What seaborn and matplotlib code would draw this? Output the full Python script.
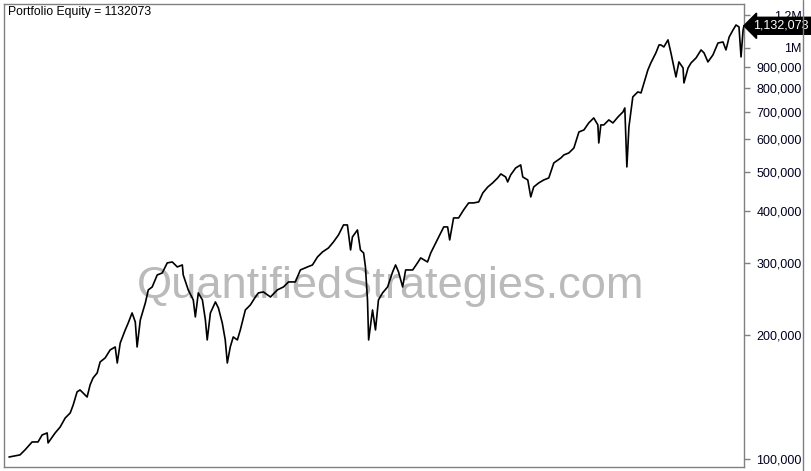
import numpy as np
import pandas as pd
import seaborn as sns
import matplotlib
matplotlib.use("Agg")
from matplotlib import pyplot as plt
from matplotlib import transforms
from matplotlib.lines import Line2D

# equity curve (decimal year, portfolio equity in thousands)
years = [1993.07, 1993.55, 1993.77, 1994.08, 1994.34, 1994.52, 1994.74, 1994.78, 1995.09, 1995.31,
         1995.53, 1995.75, 1995.88, 1996.05, 1996.18, 1996.49, 1996.62, 1996.75, 1996.93, 1997.06,
         1997.28, 1997.50, 1997.72, 1997.81, 1997.94, 1998.16, 1998.29, 1998.46, 1998.60, 1998.68,
         1998.82, 1999.04, 1999.17, 1999.34, 1999.56, 1999.78, 2000.00, 2000.22, 2000.44, 2000.66,
         2000.70, 2000.92, 2001.14, 2001.23, 2001.36, 2001.54, 2001.67, 2001.75, 2001.89, 2002.11,
         2002.24, 2002.41, 2002.54, 2002.63, 2002.76, 2002.89, 2003.07, 2003.20, 2003.42, 2003.64,
         2003.86, 2003.99, 2004.21, 2004.52, 2004.82, 2005.09, 2005.31, 2005.61, 2005.83, 2006.14,
         2006.36, 2006.58, 2006.80, 2007.06, 2007.28, 2007.50, 2007.72, 2007.89, 2008.03, 2008.11,
         2008.33, 2008.46, 2008.60, 2008.68, 2008.77, 2008.82, 2008.99, 2009.12, 2009.25, 2009.43,
         2009.65, 2009.87, 2010.00, 2010.13, 2010.31, 2010.44, 2010.75, 2010.96, 2011.10, 2011.40,
         2011.54, 2011.67, 2011.89, 2012.11, 2012.28, 2012.37, 2012.54, 2012.76, 2012.98, 2013.20,
         2013.42, 2013.64, 2013.82, 2014.04, 2014.25, 2014.47, 2014.61, 2014.82, 2014.91, 2015.04,
         2015.26, 2015.48, 2015.57, 2015.79, 2015.92, 2016.05, 2016.27, 2016.49, 2016.71, 2016.93,
         2017.24, 2017.37, 2017.59, 2017.81, 2018.03, 2018.25, 2018.46, 2018.68, 2018.86, 2018.90,
         2018.99, 2019.12, 2019.34, 2019.52, 2019.74, 2019.96, 2020.04, 2020.13, 2020.22, 2020.39,
         2020.61, 2020.75, 2020.88, 2021.05, 2021.18, 2021.40, 2021.54, 2021.62, 2021.75, 2021.93,
         2022.06, 2022.15, 2022.28, 2022.41, 2022.59, 2022.63, 2022.81, 2022.94, 2023.16, 2023.38,
         2023.51, 2023.68, 2023.90, 2024.12, 2024.34, 2024.47, 2024.61, 2024.78, 2024.91, 2025.04,
         2025.13, 2025.22, 2025.26]

equity_k = [101.1, 102.3, 105.2, 110.0, 110.0, 114.4, 115.7, 109.4, 115.7, 119.6,
            125.8, 129.4, 135.3, 145.6, 147.2, 141.5, 151.4, 157.4, 161.9, 172.2,
            176.1, 184.2, 187.3, 171.2, 191.5, 206.0, 214.2, 226.6, 215.4, 187.3,
            217.9, 239.7, 257.8, 262.1, 280.3, 283.5, 299.9, 301.5, 293.2, 296.5,
            280.3, 257.8, 243.7, 221.6, 253.5, 243.7, 217.9, 194.8, 226.6, 241.0,
            233.0, 214.2, 194.8, 171.2, 187.3, 198.1, 194.8, 206.0, 230.4, 237.0,
            247.8, 253.5, 254.9, 247.8, 257.8, 262.1, 269.6, 269.6, 288.3, 293.2,
            296.5, 310.1, 318.9, 326.1, 337.3, 350.8, 371.0, 371.0, 322.5, 346.9,
            360.7, 322.5, 317.1, 293.2, 243.7, 194.8, 230.4, 206.0, 243.7, 253.5,
            262.1, 285.1, 296.5, 285.1, 262.1, 288.3, 288.3, 299.9, 308.4, 301.5,
            317.1, 328.0, 346.9, 366.9, 366.9, 341.1, 385.8, 385.8, 403.5, 419.7,
            419.7, 422.0, 443.8, 459.0, 469.4, 482.7, 493.7, 485.4, 472.0, 490.9,
            510.5, 519.2, 485.4, 477.3, 434.0, 459.0, 469.4, 477.3, 482.7, 525.0,
            539.9, 549.1, 555.3, 571.0, 624.6, 631.7, 656.9, 675.6, 649.6, 587.3,
            649.6, 649.6, 668.1, 656.9, 679.4, 698.7, 714.5, 513.4, 642.4, 760.0,
            781.6, 777.2, 822.0, 884.0, 919.4, 972.4, 1017.0, 1017.0, 1005.6, 1046.0,
            972.4, 919.4, 850.0, 924.6, 894.0, 822.0, 894.0, 919.4, 945.5, 988.9,
            972.4, 924.6, 961.6, 1028.0, 1034.0, 988.9, 1063.0, 1106.0, 1137.0, 1125.0,
            950.8, 1106.0, 1132.073]

final_equity = 1132073
ytick_values = [100000, 200000, 300000, 400000, 500000, 600000, 700000, 800000, 900000, 1000000, 1200000]
ytick_labels = ["100,000", "200,000", "300,000", "400,000", "500,000", "600,000", "700,000",
                "800,000", "900,000", "1M", "1.2M"]
xtick_years = [1995, 2000, 2005, 2010, 2015, 2020, 2025]

df = pd.DataFrame({"year": years, "equity": np.array(equity_k) * 1000})

sns.set_style("white")
plt.rcParams["font.family"] = ["Liberation Sans", "DejaVu Sans"]

fig = plt.figure(figsize=(8.12, 4.71), dpi=100)
ax = fig.add_axes([4 / 812, 4 / 471, 740 / 812, 463 / 471])

sns.lineplot(data=df, x="year", y="equity", color="black", linewidth=1.2, ax=ax, zorder=3)

ax.set_yscale("log")
ax.set_ylim(95600, 1279000)
ax.set_xlim(1992.85, 2025.26)

ax.set_yticks(ytick_values)
ax.set_yticklabels(ytick_labels)
ax.yaxis.set_minor_locator(matplotlib.ticker.NullLocator())
ax.yaxis.tick_right()
ax.tick_params(axis="y", direction="out", length=4, width=1, color="#808080",
               labelsize=9, pad=37.5, labelcolor="#000020")
for lab in ax.get_yticklabels():
    lab.set_horizontalalignment("right")

ax.set_xticks(xtick_years)
ax.set_xticklabels([])
ax.tick_params(axis="x", direction="out", length=4, width=1, color="#808080")
ax.set_xlabel("")
ax.set_ylabel("")

for side in ["left", "right", "top", "bottom"]:
    ax.spines[side].set_color("#808080")
    ax.spines[side].set_linewidth(1)

# outer frame line on the far right
fig.add_artist(Line2D([803 / 812, 803 / 812], [0, 1], color="#808080", linewidth=1,
                      transform=fig.transFigure))

# watermark
ax.text(0.522, 0.39, "QuantifiedStrategies.com", transform=ax.transAxes, ha="center", va="center",
        fontsize=32.6, color="#bababa", zorder=1)

# title
ax.text(4 / 740, 1 - 8 / 463, "Portfolio Equity = " + str(final_equity), transform=ax.transAxes,
        ha="left", va="center", fontsize=8.8, color="black")

# last value marker
trans = transforms.blended_transform_factory(ax.transAxes, ax.transData)
ax.text(1.0 + 9 / 740, final_equity, "{:,}".format(final_equity), transform=trans, ha="left",
        va="center", fontsize=9, color="white", clip_on=False, zorder=5,
        bbox=dict(boxstyle="larrow,pad=0.2", fc="black", ec="black"))

fig.savefig("out.png", dpi=100)
